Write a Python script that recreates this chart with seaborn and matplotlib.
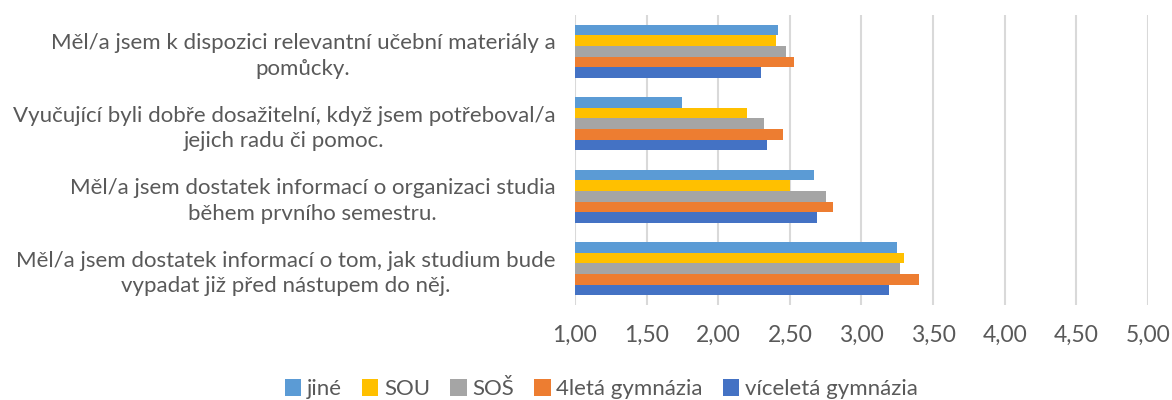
import matplotlib
matplotlib.use("Agg")
import matplotlib.pyplot as plt
import matplotlib.ticker as mticker
import seaborn as sns
import pandas as pd

# categories, top to bottom as shown
otazky = [
    "Měl/a jsem k dispozici relevantní učební materiály a\npomůcky.",
    "Vyučující byli dobře dosažitelní, když jsem potřeboval/a\njejich radu či pomoc.",
    "Měl/a jsem dostatek informací o organizaci studia\nběhem prvního semestru.",
    "Měl/a jsem dostatek informací o tom, jak studium bude\nvypadat již před nástupem do něj.",
]
skupiny = ["jiné", "SOU", "SOŠ", "4letá gymnázia", "víceletá gymnázia"]

jine = [2.42, 1.75, 2.67, 3.25]
sou = [2.40, 2.20, 2.50, 3.30]
sos = [2.47, 2.32, 2.75, 3.27]
gym4 = [2.53, 2.45, 2.80, 3.40]
gym_vic = [2.30, 2.34, 2.69, 3.19]

barvy = ["#5B9BD5", "#FFC000", "#A5A5A5", "#ED7D31", "#4472C4"]

rows = []
for skup, vals in zip(skupiny, [jine, sou, sos, gym4, gym_vic]):
    for q, v in zip(otazky, vals):
        rows.append({"otazka": q, "skupina": skup, "hodnota": v})
df = pd.DataFrame(rows)

sns.set_theme(style="white")
plt.rcParams['font.family'] = ['Lato', 'DejaVu Sans']

fig = plt.figure(figsize=(11.72, 4.0), dpi=100)
ax = fig.add_axes([0.4906, 0.2375, 0.4889, 0.725])

sns.barplot(data=df, y="otazka", x="hodnota", hue="skupina", order=otazky,
            hue_order=skupiny, palette=barvy, orient="h", width=0.73,
            saturation=1, edgecolor="none", ax=ax, legend=True)

ax.set_xlim(1, 5)
ax.set_xticks([1 + 0.5 * i for i in range(9)])
ax.xaxis.set_major_formatter(mticker.FuncFormatter(lambda v, p: f"{v:.2f}".replace(".", ",")))
ax.grid(axis="x", color="#d9d9d9", linewidth=1.5)
ax.set_axisbelow(True)
for s in ax.spines.values():
    s.set_visible(False)
ax.set_xlabel("")
ax.set_ylabel("")
ax.tick_params(axis="x", length=0, pad=14, labelsize=16.5, labelcolor="#595959")
ax.tick_params(axis="y", length=0, pad=14, labelsize=16, labelcolor="#595959")
for lab in ax.get_yticklabels():
    lab.set_multialignment("center")
    lab.set_linespacing(1.35)

h, l = ax.get_legend_handles_labels()
ax.legend_.remove()
fig.legend(h, l, loc="center", bbox_to_anchor=(0.513, 0.027), ncol=5, frameon=False,
           fontsize=16, labelcolor="#595959", handlelength=0.75, handleheight=0.75,
           handletextpad=0.25, columnspacing=0.9)

fig.savefig("out.png", dpi=100)
